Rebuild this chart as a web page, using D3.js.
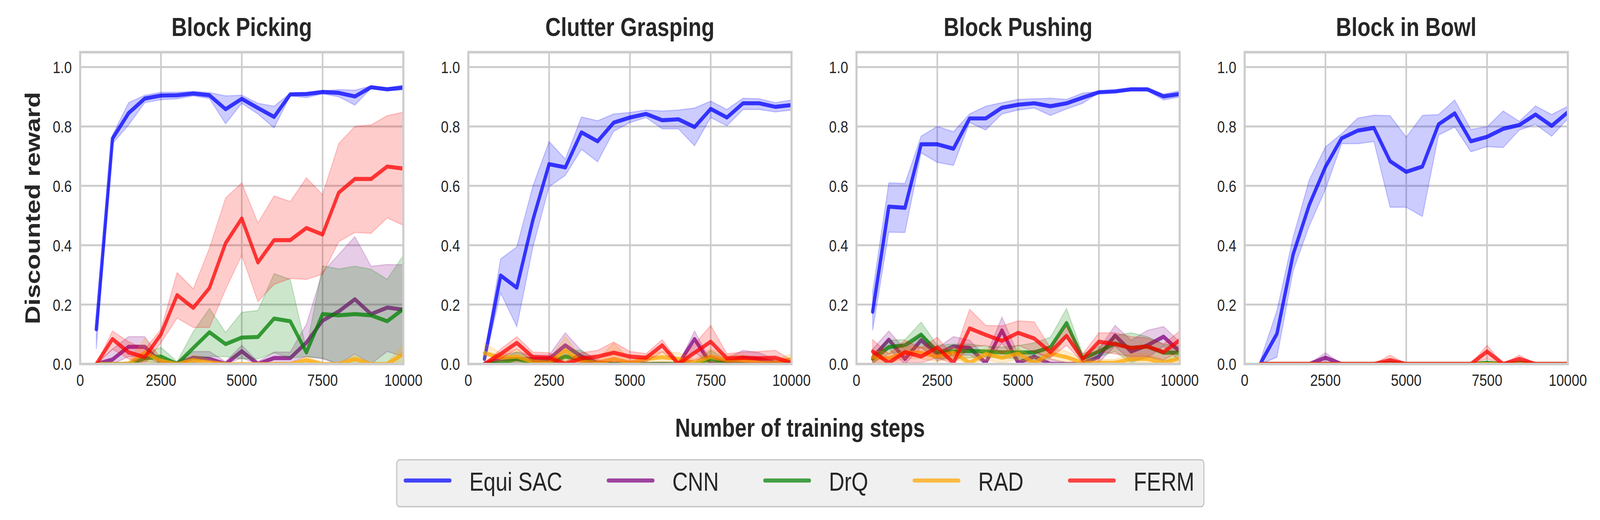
<!DOCTYPE html>
<html>
<head>
<meta charset="utf-8">
<script src="https://cdn.jsdelivr.net/npm/d3@7"></script>
<style>
  html, body { margin: 0; padding: 0; background: #fff; overflow: hidden; }
  svg { display: block; }
</style>
</head>
<body>
<div id="chart"></div>
<script>
// ---- data ----
const tasks = ["Block Picking", "Clutter Grasping", "Block Pushing", "Block in Bowl"];
const methods = ["Equi SAC", "CNN", "DrQ", "RAD", "FERM"];
const colors = ["#0000ff", "#800080", "#008000", "#ffa500", "#ff0000"];
const steps = [500, 1000, 1500, 2000, 2500, 3000, 3500, 4000, 4500, 5000,
  5500, 6000, 6500, 7000, 7500, 8000, 8500, 9000, 9500, 10000];
const xTicks = [0, 2500, 5000, 7500, 10000];
const yTicks = [0, 0.2, 0.4, 0.6, 0.8, 1.0];

// Block Picking  (rows in the order of `methods`)
const pickMean = [
  [0.117, 0.759, 0.845, 0.894, 0.904, 0.905, 0.911, 0.905, 0.858, 0.893, 0.862, 0.832, 0.908, 0.909, 0.916, 0.913, 0.901, 0.932, 0.925, 0.931],
  [0, 0.015, 0.058, 0.058, 0.005, 0, 0.021, 0.017, 0, 0.043, 0, 0.02, 0.02, 0.072, 0.146, 0.177, 0.218, 0.168, 0.19, 0.183],
  [0, 0, 0, 0.019, 0.025, 0, 0.054, 0.107, 0.067, 0.089, 0.091, 0.153, 0.144, 0.039, 0.168, 0.164, 0.168, 0.164, 0.144, 0.185],
  [0, 0, 0, 0.039, 0.01, 0, 0.013, 0.005, 0, 0, 0, 0, 0, 0.013, 0, 0, 0.017, 0, 0, 0.034],
  [0, 0.084, 0.039, 0.023, 0.1, 0.232, 0.189, 0.256, 0.407, 0.49, 0.342, 0.417, 0.417, 0.458, 0.436, 0.577, 0.623, 0.623, 0.665, 0.658]
];
const pickUp = [
  [0.13, 0.771, 0.88, 0.905, 0.915, 0.915, 0.918, 0.914, 0.903, 0.905, 0.878, 0.868, 0.912, 0.915, 0.92, 0.924, 0.922, 0.936, 0.93, 0.939],
  [0, 0.05, 0.092, 0.092, 0.017, 0.008, 0.042, 0.042, 0.008, 0.063, 0.008, 0.04, 0.04, 0.134, 0.31, 0.369, 0.429, 0.329, 0.335, 0.334],
  [0, 0, 0, 0.034, 0.056, 0.008, 0.109, 0.187, 0.106, 0.174, 0.18, 0.304, 0.285, 0.05, 0.331, 0.32, 0.329, 0.319, 0.285, 0.366],
  [0, 0, 0.01, 0.086, 0.02, 0, 0.03, 0.015, 0, 0.005, 0, 0, 0, 0.025, 0.005, 0, 0.03, 0, 0.005, 0.066],
  [0, 0.111, 0.075, 0.05, 0.117, 0.308, 0.253, 0.39, 0.559, 0.61, 0.475, 0.566, 0.547, 0.627, 0.57, 0.742, 0.8, 0.805, 0.836, 0.848]
];
const pickLo = [
  [0.05, 0.742, 0.805, 0.88, 0.89, 0.893, 0.903, 0.894, 0.809, 0.878, 0.842, 0.795, 0.903, 0.897, 0.91, 0.9, 0.872, 0.928, 0.92, 0.924],
  [0, 0, 0.025, 0.025, 0, 0, 0.004, 0, 0, 0.02, 0, 0.004, 0.004, 0.025, 0.017, 0, 0.034, 0, 0.042, 0.025],
  [0, 0, 0, 0.008, 0.004, 0, 0.004, 0.025, 0.025, 0.017, 0.017, 0.038, 0.02, 0.025, 0.02, 0, 0, 0, 0, 0],
  [0, 0, 0, 0.008, 0, 0, 0, 0, 0, 0, 0, 0, 0, 0.004, 0, 0, 0.004, 0, 0, 0.01],
  [0, 0.05, 0.017, 0, 0.071, 0.155, 0.123, 0.123, 0.251, 0.366, 0.21, 0.268, 0.288, 0.285, 0.302, 0.412, 0.443, 0.44, 0.492, 0.467]
];

// Clutter Grasping
const clutterMean = [
  [0.017, 0.298, 0.257, 0.486, 0.673, 0.662, 0.78, 0.75, 0.813, 0.83, 0.842, 0.821, 0.824, 0.798, 0.859, 0.83, 0.878, 0.878, 0.866, 0.872],
  [0, 0.017, 0.017, 0.017, 0.017, 0.063, 0.025, 0.004, 0, 0, 0, 0, 0, 0.084, 0, 0.008, 0.021, 0.017, 0.004, 0],
  [0, 0.004, 0.017, 0.004, 0.004, 0.025, 0.017, 0, 0, 0, 0, 0, 0, 0, 0.017, 0.004, 0, 0, 0, 0],
  [0.037, 0.021, 0.025, 0.008, 0.004, 0.046, 0.008, 0.004, 0.017, 0.004, 0.017, 0.023, 0.017, 0.004, 0.025, 0.013, 0.013, 0.004, 0.004, 0.017],
  [0, 0.034, 0.071, 0.023, 0.021, 0, 0.019, 0.025, 0.038, 0.025, 0.021, 0.063, 0, 0.038, 0.075, 0.019, 0.021, 0.019, 0.021, 0.004]
];
const clutterUp = [
  [0.034, 0.354, 0.394, 0.6, 0.749, 0.69, 0.832, 0.819, 0.842, 0.847, 0.855, 0.852, 0.855, 0.862, 0.885, 0.857, 0.895, 0.893, 0.88, 0.889],
  [0, 0.03, 0.04, 0.03, 0.03, 0.105, 0.045, 0.015, 0, 0.005, 0, 0.005, 0, 0.111, 0.01, 0.02, 0.046, 0.038, 0.015, 0],
  [0, 0.015, 0.042, 0.015, 0.015, 0.046, 0.046, 0.005, 0, 0, 0, 0, 0, 0.005, 0.046, 0.015, 0.005, 0, 0, 0],
  [0.071, 0.035, 0.05, 0.02, 0.015, 0.092, 0.02, 0.015, 0.071, 0.015, 0.03, 0.042, 0.038, 0.015, 0.05, 0.03, 0.03, 0.015, 0.015, 0.034],
  [0, 0.05, 0.092, 0.04, 0.038, 0.008, 0.038, 0.046, 0.074, 0.042, 0.035, 0.082, 0.008, 0.067, 0.13, 0.035, 0.04, 0.042, 0.046, 0.013]
];
const clutterLo = [
  [0.004, 0.239, 0.126, 0.394, 0.597, 0.635, 0.723, 0.681, 0.784, 0.813, 0.83, 0.792, 0.792, 0.735, 0.83, 0.802, 0.857, 0.857, 0.849, 0.855],
  [0, 0.005, 0.004, 0.005, 0.005, 0.025, 0.008, 0, 0, 0, 0, 0, 0, 0.04, 0, 0, 0.004, 0.004, 0, 0],
  [0, 0, 0, 0, 0, 0.005, 0, 0, 0, 0, 0, 0, 0, 0, 0, 0, 0, 0, 0, 0],
  [0.01, 0.008, 0.008, 0, 0, 0.01, 0, 0, 0, 0, 0.005, 0.008, 0.005, 0, 0.008, 0, 0, 0, 0, 0.004],
  [0, 0.017, 0.05, 0.008, 0.008, 0, 0.004, 0.008, 0.008, 0.008, 0.008, 0.04, 0, 0.013, 0.025, 0.004, 0.004, 0.004, 0.004, 0]
];

// Block Pushing
const pushMean = [
  [0.176, 0.53, 0.526, 0.74, 0.74, 0.725, 0.827, 0.827, 0.863, 0.873, 0.878, 0.868, 0.878, 0.897, 0.915, 0.918, 0.925, 0.925, 0.901, 0.909],
  [0.021, 0.082, 0.017, 0.08, 0.034, 0.059, 0.054, 0.004, 0.113, 0.004, 0.025, 0, 0, 0, 0.025, 0.096, 0.042, 0.063, 0.092, 0.042],
  [0.017, 0.057, 0.063, 0.099, 0.04, 0.042, 0.044, 0.042, 0.039, 0.039, 0.039, 0.056, 0.138, 0.019, 0.042, 0.069, 0.054, 0.059, 0.038, 0.038],
  [0.023, 0.019, 0.038, 0.038, 0.025, 0.038, 0.004, 0.034, 0.021, 0.035, 0.004, 0.035, 0.023, 0.004, 0.004, 0.004, 0.017, 0.017, 0.004, 0.019],
  [0.042, 0.004, 0.04, 0.025, 0.056, 0.004, 0.12, 0.098, 0.078, 0.105, 0.086, 0.04, 0.095, 0.017, 0.075, 0.067, 0.054, 0.059, 0.04, 0.08]
];
const pushUp = [
  [0.243, 0.61, 0.608, 0.767, 0.8, 0.782, 0.842, 0.868, 0.88, 0.891, 0.893, 0.895, 0.891, 0.912, 0.918, 0.92, 0.929, 0.929, 0.909, 0.92],
  [0.05, 0.111, 0.05, 0.1, 0.054, 0.092, 0.08, 0.025, 0.158, 0.034, 0.046, 0.017, 0.005, 0.005, 0.05, 0.13, 0.08, 0.113, 0.126, 0.075],
  [0.034, 0.08, 0.082, 0.141, 0.063, 0.067, 0.067, 0.06, 0.057, 0.062, 0.071, 0.09, 0.187, 0.034, 0.059, 0.096, 0.105, 0.092, 0.067, 0.059],
  [0.045, 0.04, 0.058, 0.058, 0.045, 0.058, 0.02, 0.055, 0.04, 0.055, 0.02, 0.055, 0.043, 0.015, 0.015, 0.015, 0.035, 0.035, 0.015, 0.04],
  [0.082, 0.034, 0.08, 0.054, 0.09, 0.025, 0.184, 0.13, 0.128, 0.145, 0.142, 0.054, 0.126, 0.034, 0.105, 0.105, 0.092, 0.088, 0.067, 0.111]
];
const pushLo = [
  [0.113, 0.444, 0.443, 0.711, 0.679, 0.669, 0.813, 0.788, 0.842, 0.855, 0.862, 0.837, 0.859, 0.878, 0.914, 0.915, 0.92, 0.92, 0.889, 0.899],
  [0, 0.05, 0, 0.055, 0.01, 0.03, 0.03, 0, 0.07, 0, 0.005, 0, 0, 0, 0.005, 0.06, 0.01, 0.02, 0.06, 0.01],
  [0.004, 0.034, 0.044, 0.057, 0.017, 0.017, 0.021, 0.024, 0.021, 0.016, 0.007, 0.022, 0.089, 0.004, 0.025, 0.042, 0.003, 0.026, 0.009, 0.017],
  [0.005, 0.004, 0.018, 0.018, 0.008, 0.018, 0, 0.014, 0.004, 0.015, 0, 0.015, 0.005, 0, 0, 0, 0.004, 0.004, 0, 0.004],
  [0.004, 0, 0.004, 0.004, 0.021, 0, 0.056, 0.063, 0.035, 0.063, 0.04, 0.021, 0.063, 0.004, 0.042, 0.034, 0.025, 0.025, 0.013, 0.046]
];

// Block in Bowl
const bowlMean = [
  [0.004, 0.102, 0.369, 0.536, 0.664, 0.76, 0.786, 0.795, 0.683, 0.647, 0.665, 0.807, 0.844, 0.75, 0.765, 0.792, 0.805, 0.84, 0.802, 0.848],
  [0, 0, 0, 0, 0.021, 0, 0, 0, 0, 0, 0, 0, 0, 0, 0, 0, 0, 0, 0, 0],
  [0, 0, 0, 0, 0, 0, 0, 0, 0.004, 0, 0, 0, 0, 0, 0.004, 0, 0.004, 0, 0, 0],
  [0, 0, 0, 0, 0, 0, 0, 0, 0, 0, 0, 0, 0, 0, 0, 0, 0, 0, 0, 0],
  [0, 0, 0, 0, 0, 0, 0, 0, 0.013, 0, 0, 0, 0, 0, 0.042, 0, 0.017, 0, 0, 0]
];
const bowlUp = [
  [0.017, 0.18, 0.427, 0.62, 0.731, 0.775, 0.828, 0.838, 0.836, 0.764, 0.837, 0.84, 0.889, 0.79, 0.799, 0.852, 0.817, 0.869, 0.84, 0.868],
  [0, 0, 0, 0, 0.038, 0, 0, 0, 0, 0, 0, 0, 0, 0, 0, 0, 0, 0, 0, 0],
  [0, 0, 0, 0, 0, 0, 0, 0, 0.01, 0, 0, 0, 0, 0, 0.01, 0, 0.008, 0, 0, 0],
  [0, 0, 0, 0, 0, 0, 0, 0, 0, 0, 0, 0, 0, 0, 0, 0, 0, 0, 0, 0],
  [0, 0, 0, 0, 0, 0, 0, 0, 0.03, 0, 0, 0, 0, 0, 0.063, 0, 0.03, 0, 0, 0]
];
const bowlLo = [
  [0, 0.023, 0.314, 0.465, 0.588, 0.742, 0.742, 0.749, 0.528, 0.528, 0.497, 0.771, 0.798, 0.715, 0.732, 0.729, 0.788, 0.807, 0.767, 0.826],
  [0, 0, 0, 0, 0.004, 0, 0, 0, 0, 0, 0, 0, 0, 0, 0, 0, 0, 0, 0, 0],
  [0, 0, 0, 0, 0, 0, 0, 0, 0, 0, 0, 0, 0, 0, 0, 0, 0, 0, 0, 0],
  [0, 0, 0, 0, 0, 0, 0, 0, 0, 0, 0, 0, 0, 0, 0, 0, 0, 0, 0, 0],
  [0, 0, 0, 0, 0, 0, 0, 0, 0.004, 0, 0, 0, 0, 0, 0.017, 0, 0.004, 0, 0, 0]
];

const taskData = [
  { mean: pickMean, up: pickUp, lo: pickLo },
  { mean: clutterMean, up: clutterUp, lo: clutterLo },
  { mean: pushMean, up: pushUp, lo: pushLo },
  { mean: bowlMean, up: bowlUp, lo: bowlLo }
];

// ---- layout (in a 5000 x 1330 drawing space, scaled to the window) ----
const svgWidth = 5000, svgHeight = 1330;
const plotLeft = 250.5, plotTop = 133.5, plotW = 1010, plotH = 797.5, plotStep = 1213;
const textColor = "#262626";
const gridColor = "#cccccc";
const font = "'Liberation Sans', Arial, Helvetica, sans-serif";

const svg = d3.select("#chart")
  .append("svg")
  .attr("viewBox", `0 0 ${svgWidth} ${svgHeight}`)
  .attr("preserveAspectRatio", "none")
  .attr("width", window.innerWidth || svgWidth)
  .attr("height", window.innerHeight || svgHeight)
  .attr("font-family", font);

svg.append("rect").attr("width", svgWidth).attr("height", svgHeight).attr("fill", "#fff");
const defs = svg.append("defs");

const x = d3.scaleLinear().domain([0, 10000]).range([0, plotW]);
const y = d3.scaleLinear().domain([0, 1.05]).range([plotH, 0]);

const line = d3.line()
  .x(d => x(d.step))
  .y(d => y(d.v));

const area = d3.area()
  .x(d => x(d.step))
  .y0(d => y(d.lo))
  .y1(d => y(d.hi));

tasks.forEach((task, ti) => {
  const left = plotLeft + ti * plotStep;
  const g = svg.append("g").attr("transform", `translate(${left},${plotTop})`);

  defs.append("clipPath").attr("id", "clip" + ti)
    .append("rect").attr("width", plotW).attr("height", plotH);

  // grid
  g.selectAll(".grid-x").data(xTicks).join("line")
    .attr("class", "grid-x")
    .attr("x1", d => x(d)).attr("x2", d => x(d))
    .attr("y1", 0).attr("y2", plotH)
    .attr("stroke", gridColor).attr("stroke-width", 5);

  g.selectAll(".grid-y").data(yTicks).join("line")
    .attr("class", "grid-y")
    .attr("x1", 0).attr("x2", plotW)
    .attr("y1", d => y(d)).attr("y2", d => y(d))
    .attr("stroke", gridColor).attr("stroke-width", 5);

  // series: band then mean line, in legend order
  const plot = g.append("g").attr("clip-path", `url(#clip${ti})`);
  const { mean, up, lo } = taskData[ti];
  methods.forEach((m, mi) => {
    const band = steps.map((s, k) => ({ step: s, lo: lo[mi][k], hi: up[mi][k] }));
    const pts = steps.map((s, k) => ({ step: s, v: mean[mi][k] }));
    plot.append("path")
      .attr("d", area(band))
      .attr("fill", colors[mi]).attr("fill-opacity", 0.2)
      .attr("stroke", colors[mi]).attr("stroke-opacity", 0.2)
      .attr("stroke-width", 3);
    plot.append("path")
      .attr("d", line(pts))
      .attr("fill", "none")
      .attr("stroke", colors[mi]).attr("stroke-opacity", 0.75)
      .attr("stroke-width", 10.4)
      .attr("stroke-linejoin", "round")
      .attr("stroke-linecap", "round");
  });

  // frame
  g.append("rect")
    .attr("width", plotW).attr("height", plotH)
    .attr("fill", "none").attr("stroke", gridColor).attr("stroke-width", 6.5);

  // tick labels
  g.selectAll(".xtick").data(xTicks).join("text")
    .attr("class", "xtick")
    .attr("x", d => x(d)).attr("y", plotH + 56)
    .attr("text-anchor", "middle")
    .attr("font-size", 43).attr("fill", textColor)
    .text(d => d);

  g.selectAll(".ytick").data(yTicks).join("text")
    .attr("class", "ytick")
    .attr("x", -26).attr("y", d => y(d))
    .attr("dy", "0.36em")
    .attr("text-anchor", "end")
    .attr("font-size", 43).attr("fill", textColor)
    .text(d => d3.format(".1f")(d));

  // title
  g.append("text")
    .attr("x", plotW / 2).attr("y", 92 - plotTop)
    .attr("text-anchor", "middle")
    .attr("font-size", 67).attr("font-weight", "bold").attr("fill", textColor)
    .text(task);
});

// axis labels
svg.append("text")
  .attr("x", 2500).attr("y", 1117)
  .attr("text-anchor", "middle")
  .attr("font-size", 66).attr("font-weight", "bold").attr("fill", textColor)
  .text("Number of training steps");

svg.append("text")
  .attr("transform", `translate(125,${plotTop + plotH / 2}) rotate(-90)`)
  .attr("text-anchor", "middle")
  .attr("font-size", 66).attr("font-weight", "bold").attr("fill", textColor)
  .text("Discounted reward");

// legend
const legendFont = 67;
const padLeft = 27, padRight = 30, handleLen = 139, textOffset = 200, itemGap = 144;
const legend = svg.append("g");
const legendBox = legend.append("rect")
  .attr("fill", "#f0f0f0")
  .attr("stroke", "#bfbfbf").attr("stroke-width", 3)
  .attr("rx", 10).attr("ry", 10);

let cursor = padLeft;
methods.forEach((m, mi) => {
  const item = legend.append("g");
  item.append("line")
    .attr("x1", 0).attr("x2", handleLen)
    .attr("y1", 0).attr("y2", 0)
    .attr("stroke", colors[mi]).attr("stroke-opacity", 0.72)
    .attr("stroke-width", 10.4).attr("stroke-linecap", "round");
  const t = item.append("text")
    .attr("x", textOffset).attr("y", 26)
    .attr("font-size", legendFont).attr("fill", textColor)
    .text(m);
  const w = t.node().getComputedTextLength();
  item.attr("transform", `translate(${cursor},0)`);
  cursor += textOffset + w + itemGap;
});
const legendW = cursor - itemGap + padRight;
const legendLeft = 2501 - legendW / 2;
legend.attr("transform", `translate(${legendLeft},1229)`);
legendBox.attr("x", 0).attr("y", -53).attr("width", legendW).attr("height", 120);
</script>
</body>
</html>
